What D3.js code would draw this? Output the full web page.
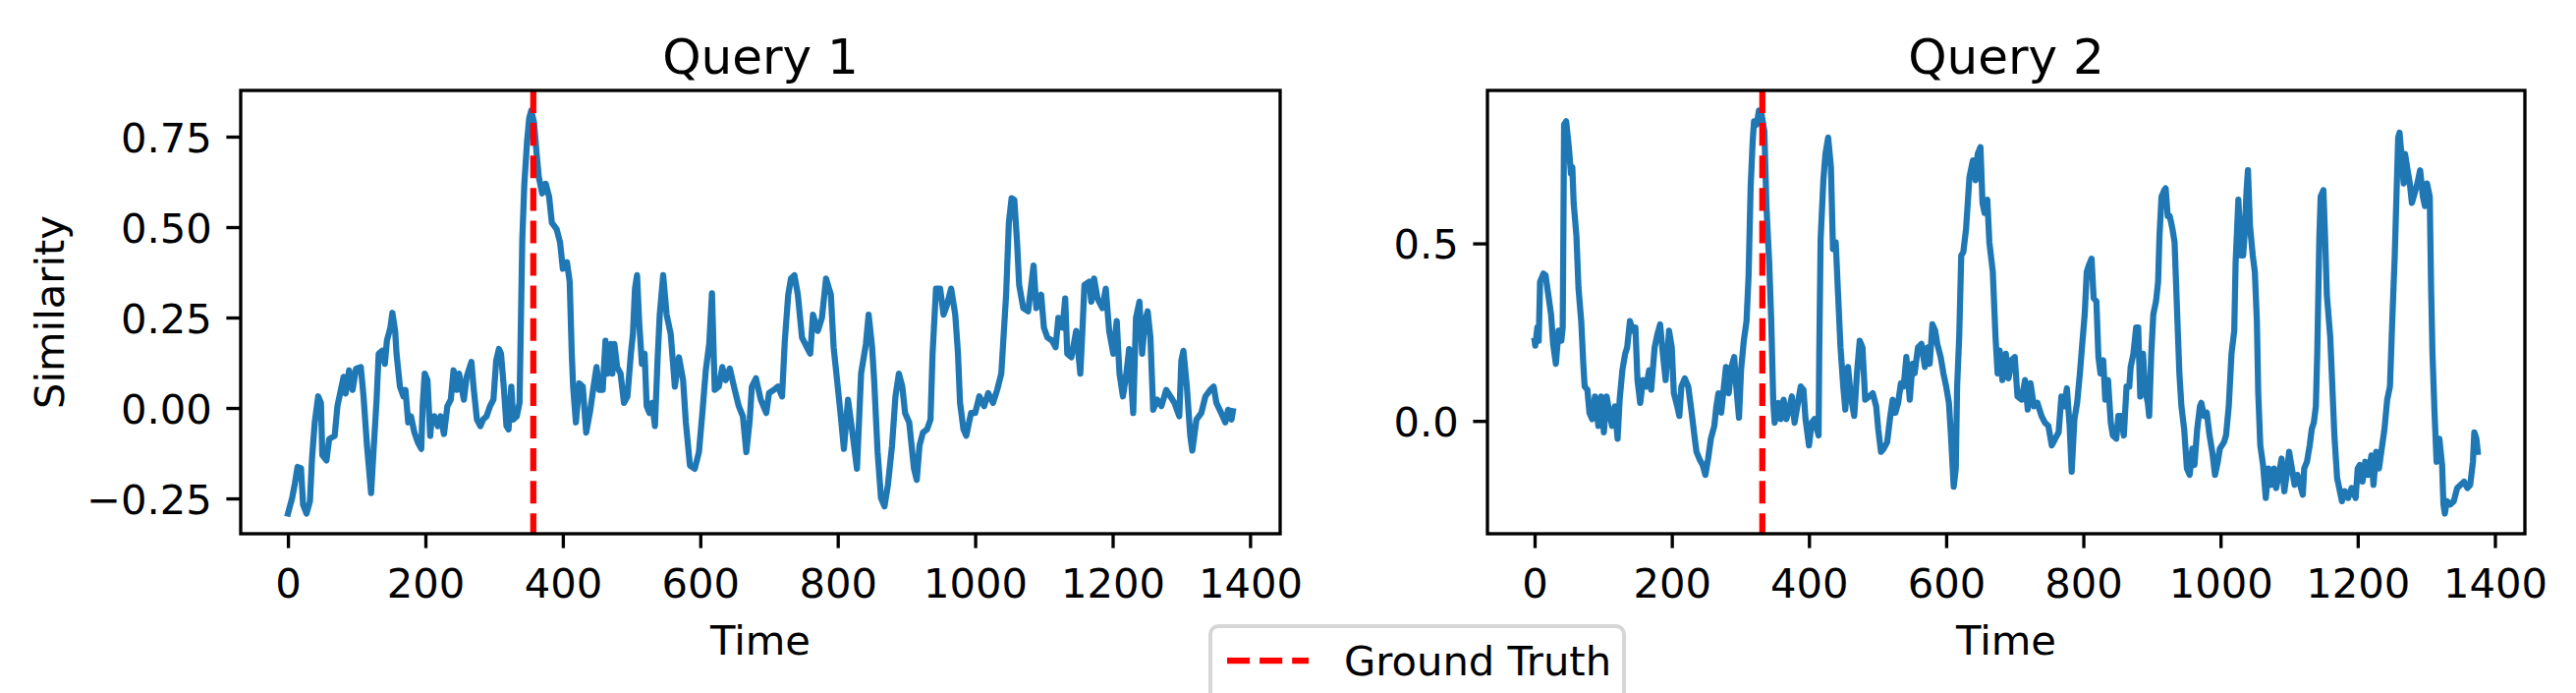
<!doctype html>
<html>
<head>
    <meta charset="utf-8">
    <style>
        body { margin: 0; background: white; }
        text { font-family: "DejaVu Sans", sans-serif; fill: black; }
    </style>
    <script src="https://d3js.org/d3.v7.min.js"></script>
</head>
<body>
    <svg width="2622" height="705"></svg>
    <script>
        // Query 1 (time, similarity)
        var time1 = [0, 6, 10, 14, 19, 22, 27, 32, 35, 39, 44, 48, 50, 56, 60, 68, 72, 77, 81, 84, 89, 94, 99, 106, 110, 115, 121, 125, 129, 132, 137, 141, 144, 149, 152, 156, 158, 163, 168, 171, 175, 179, 184, 189, 194, 196, 199, 203, 207, 209, 213, 218, 222, 227, 232, 237, 241, 246, 249, 256, 260, 267, 270, 275, 280, 284, 289, 294, 299, 303, 307, 310, 314, 318, 321, 325, 328, 333, 337, 339, 341, 344, 348, 351, 354, 358, 362, 365, 370, 375, 380, 384, 391, 396, 400, 406, 410, 413, 415, 419, 424, 429, 434, 440, 444, 449, 453, 458, 462, 465, 470, 472, 475, 479, 484, 489, 494, 499, 502, 505, 508, 511, 515, 519, 522, 526, 530, 534, 538, 541, 546, 551, 557, 563, 569, 575, 579, 585, 592, 598, 603, 608, 613, 617, 621, 627, 632, 637, 643, 649, 656, 662, 667, 672, 675, 681, 688, 696, 700, 707, 713, 719, 723, 728, 732, 737, 742, 748, 755, 760, 764, 771, 777, 783, 790, 794, 799, 804, 809, 815, 822, 828, 834, 841, 845, 850, 853, 858, 863, 868, 873, 879, 884, 889, 894, 898, 904, 911, 915, 919, 924, 930, 935, 938, 943, 949, 954, 959, 965, 971, 975, 978, 983, 987, 994, 1000, 1006, 1013, 1019, 1026, 1032, 1038, 1045, 1049, 1053, 1057, 1061, 1064, 1070, 1077, 1081, 1085, 1089, 1096, 1100, 1105, 1112, 1117, 1121, 1127, 1131, 1134, 1140, 1147, 1153, 1156, 1159, 1166, 1169, 1173, 1178, 1185, 1190, 1195, 1201, 1206, 1210, 1215, 1220, 1224, 1230, 1234, 1239, 1243, 1247, 1251, 1255, 1259, 1265, 1271, 1278, 1284, 1290, 1297, 1300, 1303, 1308, 1313, 1316, 1322, 1329, 1335, 1342, 1347, 1351, 1358, 1364, 1368, 1373, 1375];
        var sim1 = [-0.292, -0.25, -0.21, -0.163, -0.167, -0.267, -0.292, -0.258, -0.14, -0.04, 0.032, 0.014, -0.13, -0.145, -0.086, -0.077, 0.005, 0.05, 0.086, 0.04, 0.104, 0.05, 0.108, 0.113, 0.032, -0.104, -0.235, -0.104, 0.023, 0.15, 0.158, 0.122, 0.186, 0.222, 0.263, 0.213, 0.15, 0.059, 0.032, 0.05, -0.04, -0.023, -0.068, -0.095, -0.113, 0.005, 0.095, 0.077, -0.077, -0.032, -0.023, -0.05, -0.023, -0.072, 0.005, 0.023, 0.104, 0.05, 0.095, 0.023, 0.086, 0.127, 0.059, -0.032, -0.05, -0.032, -0.023, 0.005, 0.023, 0.131, 0.163, 0.15, 0.059, -0.05, -0.059, 0.059, -0.032, -0.023, 0.014, 0.24, 0.466, 0.62, 0.738, 0.80, 0.822, 0.79, 0.70, 0.639, 0.593, 0.62, 0.584, 0.512, 0.494, 0.457, 0.385, 0.403, 0.349, 0.15, 0.059, -0.04, 0.068, 0.059, -0.068, -0.005, 0.05, 0.113, 0.05, 0.05, 0.186, 0.095, 0.177, 0.095, 0.177, 0.113, 0.095, 0.014, 0.032, 0.15, 0.204, 0.33, 0.367, 0.24, 0.122, 0.15, 0.005, -0.014, 0.014, -0.05, 0.14, 0.258, 0.367, 0.258, 0.204, 0.059, 0.14, 0.077, -0.04, -0.159, -0.168, -0.122, -0.014, 0.104, 0.177, 0.317, 0.05, 0.059, 0.113, 0.077, 0.109, 0.059, 0.005, -0.023, -0.122, -0.032, 0.059, 0.082, 0.023, -0.014, 0.041, 0.05, 0.059, 0.032, 0.186, 0.313, 0.358, 0.367, 0.313, 0.195, 0.168, 0.15, 0.258, 0.213, 0.249, 0.358, 0.313, 0.168, 0.077, -0.014, -0.113, 0.023, -0.077, -0.168, 0.095, 0.177, 0.258, 0.168, 0.077, -0.122, -0.249, -0.272, -0.213, -0.104, 0.032, 0.095, 0.059, -0.014, -0.04, -0.168, -0.199, -0.104, -0.068, -0.059, -0.032, 0.15, 0.33, 0.33, 0.258, 0.285, 0.33, 0.258, 0.15, 0.014, -0.059, -0.077, -0.014, -0.014, 0.032, 0.005, 0.041, 0.014, 0.05, 0.095, 0.313, 0.512, 0.58, 0.575, 0.457, 0.34, 0.276, 0.267, 0.33, 0.394, 0.276, 0.313, 0.222, 0.195, 0.186, 0.168, 0.249, 0.222, 0.303, 0.15, 0.14, 0.213, 0.095, 0.213, 0.34, 0.349, 0.294, 0.358, 0.303, 0.276, 0.33, 0.213, 0.15, 0.24, 0.095, 0.032, 0.095, 0.163, -0.014, 0.249, 0.294, 0.15, 0.24, 0.267, 0.195, -0.005, 0.023, 0.005, 0.05, 0.032, 0.014, -0.023, 0.131, 0.158, 0.059, -0.077, -0.118, -0.032, -0.014, 0.032, 0.05, 0.059, 0.014, -0.014, -0.04, -0.005, -0.032, -0.009];

        // Query 2 (time, similarity)
        var time2 = [0, 1, 4, 6, 8, 13, 16, 20, 24, 27, 31, 35, 39, 41, 43, 46, 50, 53, 55, 57, 61, 64, 68, 71, 73, 77, 80, 84, 88, 93, 97, 101, 105, 109, 113, 117, 121, 124, 128, 132, 135, 139, 143, 147, 150, 154, 158, 163, 167, 170, 175, 179, 183, 187, 191, 196, 200, 203, 208, 211, 214, 219, 224, 229, 233, 236, 241, 245, 249, 253, 257, 262, 265, 268, 272, 276, 279, 283, 287, 291, 294, 298, 301, 305, 309, 312, 315, 318, 320, 324, 327, 331, 335, 338, 342, 345, 348, 350, 355, 359, 363, 367, 371, 375, 379, 383, 388, 392, 395, 400, 404, 408, 414, 415, 417, 421, 424, 428, 432, 435, 439, 442, 446, 450, 453, 457, 461, 466, 470, 474, 478, 482, 488, 493, 498, 501, 505, 509, 514, 518, 522, 526, 530, 534, 538, 542, 547, 551, 554, 559, 564, 569, 573, 576, 580, 584, 587, 592, 596, 600, 604, 607, 611, 614, 616, 619, 622, 625, 629, 634, 639, 643, 646, 650, 653, 656, 660, 663, 668, 672, 675, 678, 682, 687, 691, 695, 700, 704, 710, 715, 719, 723, 728, 733, 739, 744, 749, 754, 759, 764, 768, 772, 776, 780, 783, 787, 791, 795, 798, 802, 805, 808, 812, 815, 819, 822, 825, 829, 832, 836, 840, 843, 848, 851, 855, 859, 863, 867, 869, 873, 877, 880, 883, 887, 890, 894, 896, 899, 902, 906, 909, 911, 914, 918, 920, 923, 926, 930, 933, 937, 940, 943, 947, 951, 955, 959, 962, 966, 970, 972, 976, 980, 984, 988, 992, 996, 999, 1005, 1008, 1012, 1016, 1020, 1022, 1026, 1030, 1033, 1035, 1038, 1040, 1043, 1047, 1050, 1053, 1055, 1058, 1062, 1066, 1070, 1074, 1078, 1081, 1085, 1089, 1093, 1097, 1100, 1104, 1108, 1112, 1116, 1120, 1122, 1126, 1130, 1133, 1136, 1139, 1141, 1144, 1146, 1150, 1153, 1155, 1160, 1163, 1166, 1170, 1173, 1177, 1181, 1186, 1191, 1197, 1200, 1203, 1207, 1211, 1215, 1220, 1223, 1227, 1231, 1235, 1239, 1243, 1247, 1250, 1254, 1257, 1259, 1261, 1264, 1267, 1269, 1272, 1276, 1279, 1283, 1287, 1291, 1295, 1298, 1301, 1305, 1307, 1309, 1312, 1315, 1319, 1323, 1325, 1327, 1330, 1335, 1340, 1345, 1350, 1355, 1360, 1364, 1368, 1370, 1373, 1375];
        var sim2 = [0.226, 0.212, 0.263, 0.226, 0.392, 0.415, 0.41, 0.355, 0.30, 0.217, 0.161, 0.254, 0.226, 0.263, 0.835, 0.844, 0.77, 0.697, 0.715, 0.613, 0.521, 0.374, 0.281, 0.161, 0.097, 0.088, 0.023, 0.005, 0.069, -0.014, 0.069, -0.032, 0.069, 0.023, -0.014, 0.041, -0.05, 0.06, 0.143, 0.189, 0.207, 0.281, 0.254, 0.263, 0.115, 0.051, 0.115, 0.097, 0.143, 0.088, 0.207, 0.244, 0.272, 0.189, 0.115, 0.254, 0.207, 0.078, 0.041, 0.014, 0.097, 0.12, 0.097, 0.023, -0.041, -0.087, -0.11, -0.124, -0.152, -0.106, -0.05, -0.014, 0.041, 0.078, 0.023, 0.097, 0.152, 0.078, 0.152, 0.18, 0.097, 0.009, 0.143, 0.226, 0.281, 0.41, 0.66, 0.789, 0.844, 0.835, 0.874, 0.863, 0.816, 0.604, 0.447, 0.281, 0.051, -0.005, 0.051, 0.005, 0.06, 0.005, 0.032, 0.069, -0.005, 0.041, 0.097, 0.088, 0.005, -0.069, -0.005, 0.005, -0.041, 0.189, 0.512, 0.678, 0.752, 0.798, 0.715, 0.484, 0.503, 0.374, 0.207, 0.097, 0.032, 0.152, 0.069, 0.014, 0.134, 0.226, 0.207, 0.06, 0.069, 0.078, 0.041, -0.023, -0.087, -0.078, -0.06, 0.005, 0.06, 0.023, 0.051, 0.106, 0.097, 0.18, 0.06, 0.161, 0.134, 0.207, 0.217, 0.152, 0.207, 0.161, 0.272, 0.254, 0.217, 0.18, 0.134, 0.097, 0.051, -0.041, -0.185, -0.134, 0.097, 0.235, 0.466, 0.475, 0.54, 0.687, 0.734, 0.678, 0.752, 0.771, 0.614, 0.586, 0.623, 0.503, 0.42, 0.235, 0.134, 0.198, 0.115, 0.189, 0.12, 0.171, 0.18, 0.069, 0.06, 0.115, 0.032, 0.106, 0.041, 0.051, 0.014, -0.005, -0.014, -0.069, -0.05, -0.032, 0.069, 0.041, 0.092, -0.014, -0.143, 0.005, 0.051, 0.134, 0.207, 0.3, 0.42, 0.438, 0.457, 0.346, 0.337, 0.18, 0.134, 0.171, 0.06, 0.115, -0.005, -0.041, -0.05, 0.014, 0.014, -0.041, 0.097, 0.097, 0.152, 0.189, 0.263, 0.263, 0.069, 0.189, 0.088, 0.051, 0.014, 0.189, 0.3, 0.337, 0.392, 0.521, 0.632, 0.65, 0.655, 0.577, 0.577, 0.54, 0.503, 0.29, 0.134, 0.041, -0.023, -0.134, -0.152, -0.078, -0.124, -0.023, 0.041, 0.051, 0.014, 0.023, -0.041, -0.087, -0.152, -0.115, -0.078, -0.06, -0.041, 0.041, 0.189, 0.254, 0.447, 0.623, 0.466, 0.466, 0.521, 0.65, 0.706, 0.549, 0.466, 0.42, 0.281, 0.078, -0.069, -0.124, -0.217, -0.134, -0.18, -0.134, -0.189, -0.152, -0.106, -0.198, -0.143, -0.087, -0.134, -0.18, -0.152, -0.18, -0.208, -0.134, -0.115, -0.069, -0.023, -0.005, 0.041, 0.189, 0.512, 0.632, 0.65, 0.485, 0.355, 0.235, 0.097, -0.041, -0.161, -0.189, -0.226, -0.198, -0.217, -0.189, -0.217, -0.134, -0.124, -0.171, -0.115, -0.152, -0.097, -0.18, -0.087, -0.134, -0.078, -0.023, 0.06, 0.097, 0.263, 0.466, 0.669, 0.798, 0.812, 0.743, 0.669, 0.752, 0.715, 0.669, 0.614, 0.641, 0.669, 0.706, 0.632, 0.605, 0.669, 0.632, 0.374, 0.189, 0.023, -0.115, -0.05, -0.124, -0.235, -0.261, -0.226, -0.235, -0.226, -0.189, -0.18, -0.171, -0.189, -0.18, -0.115, -0.032, -0.05, -0.087];

        var titles = ["Query 1", "Query 2"];
        var groundTruth = [357, 332];
        var xTicks = [0, 200, 400, 600, 800, 1000, 1200, 1400];
        var yTicks1 = [-0.25, 0, 0.25, 0.5, 0.75];
        var yTicks2 = [0, 0.5];

        var svg = d3.select("svg");
        var fs = 41.67;

        var panels = [
            { t: time1, v: sim1, left: 245, right: 1303, yTicks: yTicks1, fmt: d3.format(".2f"), truth: groundTruth[0], title: titles[0] },
            { t: time2, v: sim2, left: 1514, right: 2570, yTicks: yTicks2, fmt: d3.format(".1f"), truth: groundTruth[1], title: titles[1] }
        ];
        var plotTop = 92, plotBottom = 543;

        // matplotlib style 5% padding on the data range
        function padded(ext) {
            var m = (ext[1] - ext[0]) * 0.05;
            return [ext[0] - m, ext[1] + m];
        }

        panels.forEach(function (p, k) {
            var x = d3.scaleLinear().domain(padded(d3.extent(p.t))).range([p.left, p.right]);
            var y = d3.scaleLinear().domain(padded(d3.extent(p.v))).range([plotBottom, plotTop]);

            var clipId = "clip" + k;
            svg.append("clipPath").attr("id", clipId)
                .append("rect")
                .attr("x", p.left).attr("y", plotTop)
                .attr("width", p.right - p.left).attr("height", plotBottom - plotTop);

            var g = svg.append("g");
            var plot = g.append("g").attr("clip-path", "url(#" + clipId + ")");

            var line = d3.line()
                .x(function (d) { return x(p.t[d]); })
                .y(function (d) { return y(p.v[d]); });

            plot.append("path")
                .attr("d", line(d3.range(p.t.length)))
                .attr("fill", "none")
                .attr("stroke", "#1f77b4")
                .attr("stroke-width", 6.25)
                .attr("stroke-linejoin", "round")
                .attr("stroke-linecap", "square");

            // ground truth
            plot.append("line")
                .attr("x1", x(p.truth)).attr("x2", x(p.truth))
                .attr("y1", plotTop).attr("y2", plotBottom)
                .attr("stroke", "red")
                .attr("stroke-width", 6.25)
                .attr("stroke-dasharray", "23.1,10");

            // axes
            var xAxis = d3.axisBottom(x).tickValues(xTicks).tickSize(14.6).tickPadding(14.6).tickFormat(d3.format("d"));
            var yAxis = d3.axisLeft(y).tickValues(p.yTicks).tickSize(14.6).tickPadding(14.6).tickFormat(p.fmt);

            var gx = g.append("g").attr("transform", "translate(0," + plotBottom + ")").call(xAxis);
            var gy = g.append("g").attr("transform", "translate(" + p.left + ",0)").call(yAxis);

            [gx, gy].forEach(function (a) {
                a.select(".domain").remove();
                a.selectAll(".tick line").attr("stroke", "black").attr("stroke-width", 3.33);
                a.selectAll(".tick text")
                    .attr("font-family", "DejaVu Sans")
                    .attr("font-size", fs)
                    .attr("fill", "black");
            });
            gx.selectAll(".tick text").attr("dy", null).attr("y", 65);
            gy.selectAll(".tick text").attr("dy", "0.36em");

            // frame
            g.append("rect")
                .attr("x", p.left).attr("y", plotTop)
                .attr("width", p.right - p.left).attr("height", plotBottom - plotTop)
                .attr("fill", "none")
                .attr("stroke", "black")
                .attr("stroke-width", 3.33);

            // title
            g.append("text")
                .attr("x", (p.left + p.right) / 2).attr("y", 75)
                .attr("text-anchor", "middle")
                .attr("font-size", 50)
                .text(p.title);

            // x label
            g.append("text")
                .attr("x", (p.left + p.right) / 2).attr("y", 666)
                .attr("text-anchor", "middle")
                .attr("font-size", fs)
                .text("Time");
        });

        // y label for first panel
        svg.append("text")
            .attr("transform", "translate(65," + (plotTop + plotBottom) / 2 + ") rotate(-90)")
            .attr("text-anchor", "middle")
            .attr("font-size", fs)
            .text("Similarity");

        // legend
        var lg = svg.append("g");
        lg.append("rect")
            .attr("x", 1232).attr("y", 637)
            .attr("width", 421).attr("height", 100)
            .attr("rx", 8)
            .attr("fill", "white").attr("fill-opacity", 0.8)
            .attr("stroke", "#d6d6d6").attr("stroke-width", 4);
        lg.append("line")
            .attr("x1", 1249).attr("x2", 1332)
            .attr("y1", 672).attr("y2", 672)
            .attr("stroke", "red")
            .attr("stroke-width", 6.25)
            .attr("stroke-dasharray", "23.1,10");
        lg.append("text")
            .attr("x", 1368).attr("y", 687)
            .attr("font-size", fs)
            .text("Ground Truth");
    </script>
</body>
</html>
